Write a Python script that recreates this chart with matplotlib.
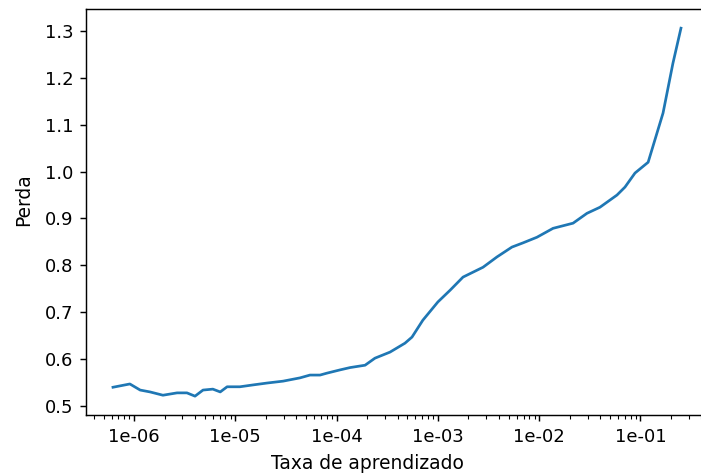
import matplotlib
matplotlib.use("Agg")
import matplotlib.pyplot as plt
import matplotlib.ticker as mticker
import numpy as np

# learning-rate finder sweep: learning rate vs smoothed loss
learning_rates = [
    6.2e-7, 9.1e-7, 1.15e-6, 1.44e-6, 1.93e-6, 2.66e-6, 3.33e-6, 4.0e-6,
    4.8e-6, 6.0e-6, 7.1e-6, 8.3e-6, 1.11e-5, 1.50e-5, 2.06e-5, 2.96e-5,
    4.35e-5, 5.46e-5, 6.86e-5, 8.0e-5, 1.08e-4, 1.36e-4, 1.91e-4, 2.39e-4,
    3.37e-4, 4.73e-4, 5.55e-4, 7.1e-4, 1.0e-3, 1.32e-3, 1.77e-3, 2.79e-3,
    3.83e-3, 5.38e-3, 6.92e-3, 9.5e-3, 1.37e-2, 2.16e-2, 2.96e-2, 3.98e-2,
    5.86e-2, 7.03e-2, 8.83e-2, 0.119, 0.167, 0.209, 0.251,
]
losses = [
    0.540, 0.547, 0.534, 0.530, 0.523, 0.528, 0.528, 0.521,
    0.534, 0.536, 0.530, 0.541, 0.541, 0.545, 0.549, 0.553,
    0.560, 0.566, 0.566, 0.570, 0.577, 0.582, 0.587, 0.602,
    0.615, 0.634, 0.647, 0.683, 0.722, 0.747, 0.775, 0.796,
    0.818, 0.839, 0.848, 0.860, 0.879, 0.890, 0.911, 0.924,
    0.950, 0.967, 0.997, 1.020, 1.125, 1.231, 1.306,
]
x_ticks = [1e-6, 1e-5, 1e-4, 1e-3, 1e-2, 1e-1]
y_ticks = [0.5, 0.6, 0.7, 0.8, 0.9, 1.0, 1.1, 1.2, 1.3]

dpi = 130
fig = plt.figure(figsize=(701 / dpi, 476 / dpi), dpi=dpi)
ax = fig.add_axes([86 / 701, 61 / 476, 626 / 701, 406 / 476])

ax.plot(learning_rates, losses, color="#1f77b4", linewidth=1.5)
ax.set_xscale("log")
ax.set_xlim(10 ** -6.474, 10 ** -0.294)
ax.set_ylim(0.4808, 1.3469)
ax.xaxis.set_major_locator(mticker.FixedLocator(x_ticks))
ax.xaxis.set_major_formatter(mticker.FormatStrFormatter("%.0e"))
ax.xaxis.set_minor_formatter(mticker.NullFormatter())
ax.set_yticks(y_ticks)
ax.set_ylabel("Perda", fontsize=10.3)
ax.set_xlabel("Taxa de aprendizado", fontsize=10.3)
ax.xaxis.set_label_coords(0.449, -0.097)
ax.yaxis.set_label_coords(-0.084, 0.53)

fig.savefig("out.png", dpi=dpi)
